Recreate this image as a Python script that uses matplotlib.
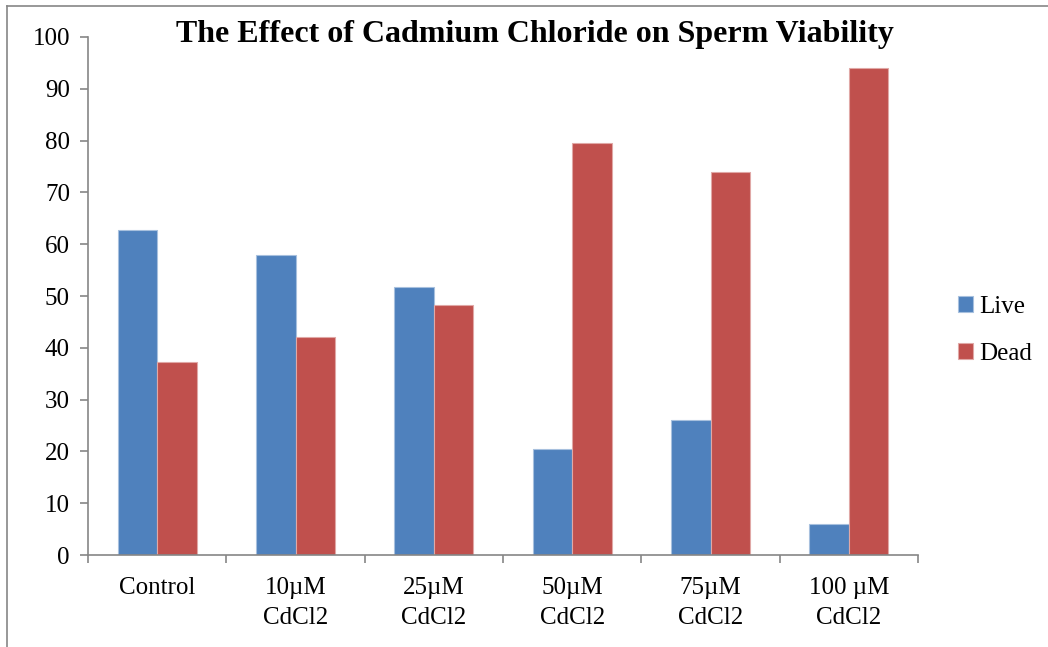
import numpy as np
import matplotlib.pyplot as plt
from matplotlib.lines import Line2D

plt.rcParams['font.family'] = ['Liberation Serif', 'DejaVu Serif']

categories = ['Control', '10µM\nCdCl2', '25µM\nCdCl2', '50µM\nCdCl2', '75µM\nCdCl2', '100 µM\nCdCl2']
live = [62.7, 57.9, 51.7, 20.4, 26.0, 6.1]
dead = [37.3, 42.1, 48.3, 79.6, 74.0, 93.9]

fig = plt.figure(figsize=(10.48, 6.47), dpi=100)
ax = fig.add_axes([0.084, 0.142, 0.792, 0.801])

x = np.arange(len(categories))
w = 0.286
ax.bar(x - w / 2, live, w, color='#4f81bd', edgecolor='#a7c0de', linewidth=0.8, label='Live')
ax.bar(x + w / 2, dead, w, color='#c0504d', edgecolor='#e0a8a6', linewidth=0.8, label='Dead')

ax.set_xlim(-0.5, len(categories) - 0.5)
ax.set_ylim(0, 100)
ax.set_yticks(range(0, 101, 10))
ax.set_xticks(np.arange(-0.5, len(categories), 1))
ax.set_xticklabels([])
ax.set_xticks(x, minor=True)
ax.set_xticklabels(categories, minor=True, fontsize=18, linespacing=1.45)
ax.tick_params(axis='x', which='minor', length=0, pad=16)
ax.tick_params(axis='x', which='major', length=6, color='#868686', width=1.2)
ax.tick_params(axis='y', length=6, color='#868686', width=1.2, labelsize=18, pad=7)

for s in ['top', 'right']:
    ax.spines[s].set_visible(False)
for s in ['left', 'bottom']:
    ax.spines[s].set_color('#868686')
    ax.spines[s].set_linewidth(1.2)

fig.text(0.51, 0.947, 'The Effect of Cadmium Chloride on Sperm Viability',
         ha='center', va='center', fontsize=23, fontweight='bold')

ax.legend(loc='center left', bbox_to_anchor=(1.048, 0.433), frameon=False, fontsize=18,
          handlelength=0.6, handleheight=0.6, handletextpad=0.25, labelspacing=1.0,
          borderpad=0, borderaxespad=0)

# outer chart frame
fig.add_artist(Line2D([0.007, 0.007], [0, 0.99], color='#868686', lw=1.2))
fig.add_artist(Line2D([0.007, 1], [0.99, 0.99], color='#868686', lw=1.2))

fig.savefig('out.png', dpi=100)
